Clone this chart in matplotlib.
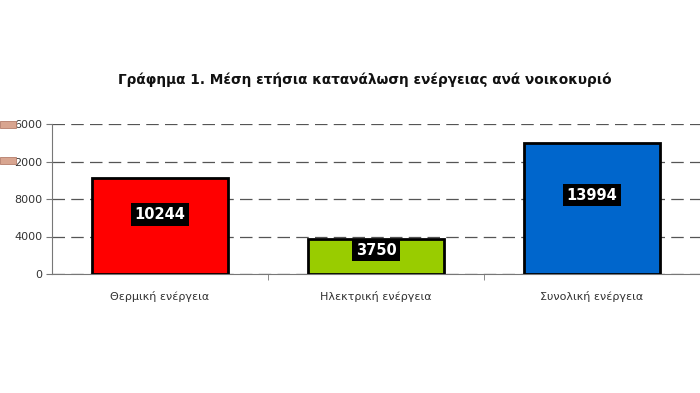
import matplotlib
matplotlib.use("Agg")
import matplotlib.pyplot as plt
from matplotlib.patches import Rectangle

# data
categories = ["Θερμική ενέργεια", "Ηλεκτρική ενέργεια", "Συνολική ενέργεια"]
values = [10244, 3750, 13994]
bar_colors = ["#ff0000", "#99cc00", "#0066cc"]
yticks = [0, 4000, 8000, 12000, 16000]
ytick_labels = ["0", "4000", "8000", "2000", "6000"]
title = "Γράφημα 1. Μέση ετήσια κατανάλωση ενέργειας ανά νοικοκυριό"

# where the value boxes sit, as a fraction of bar height
label_frac = [0.62, 0.68, 0.6]

fig = plt.figure(figsize=(7, 3.93), dpi=100)
ax = fig.add_axes([52 / 700, 1 - 274 / 393, 648 / 700, 150 / 393])

x = list(range(len(categories)))
ax.bar(x, values, width=0.63, color=bar_colors, edgecolor="black", linewidth=2, zorder=3)

for i, v in enumerate(values):
    ax.text(i, v * label_frac[i], str(v), ha="center", va="center",
            color="white", fontsize=10.5, fontweight="bold", zorder=4,
            bbox=dict(boxstyle="square,pad=0.25", fc="black", ec="none"))

ax.set_xlim(-0.5, 2.5)
ax.set_ylim(0, 16000)
ax.set_yticks(yticks)
ax.set_yticklabels(ytick_labels, fontsize=8, color="#333333")
ax.set_xticks(x)
ax.set_xticklabels(categories, fontsize=8, color="#333333")
ax.tick_params(axis="x", length=0, pad=12)
ax.set_xticks([0.5, 1.5], minor=True)
ax.tick_params(axis="x", which="minor", length=4, color="#777777", direction="out")
ax.tick_params(axis="y", length=4, color="#777777", pad=3)

ax.grid(axis="y", color="#555555", linestyle=(0, (10, 5)), linewidth=0.9, zorder=0)
for s in ["top", "right"]:
    ax.spines[s].set_visible(False)
ax.spines["left"].set_color("#777777")
ax.spines["bottom"].set_color("#777777")

fig.text(365 / 700, 1 - 80 / 393, title, ha="center", va="center",
         fontsize=9.8, fontweight="bold", color="#111111")

# the small brown patches over the left of the top two labels
for yc in [124, 161]:
    fig.patches.append(Rectangle((0, 1 - (yc + 3.5) / 393), 16 / 700, 7 / 393,
                                 transform=fig.transFigure, fc="#d8a590",
                                 ec="#b57d6a", lw=0.6, zorder=10))

fig.savefig("out.png", dpi=100)
